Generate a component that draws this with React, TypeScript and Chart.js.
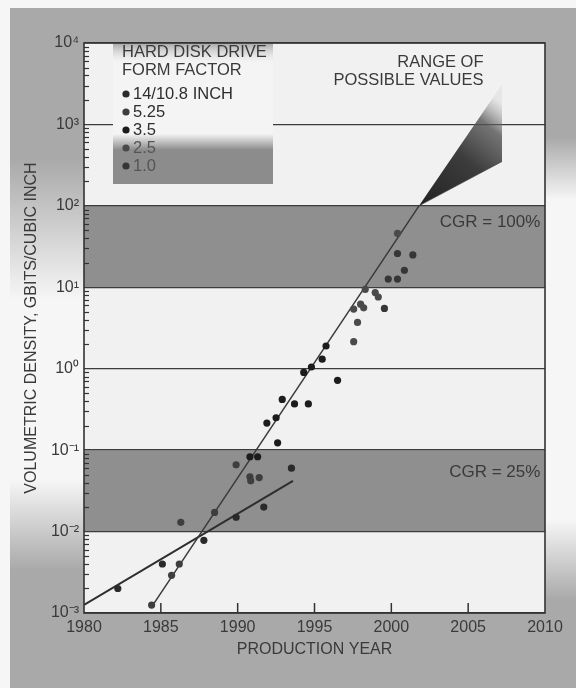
import React, { useEffect, useRef } from 'react';
import { Chart, registerables } from 'chart.js';

Chart.register(...registerables);

const FONT = "'Liberation Sans', Arial, Helvetica, sans-serif";
const INK = '#333333';

// ---------- data ----------
const formFactors = ['14/10.8 INCH', '5.25', '3.5', '2.5', '1.0'];
const seriesColors = ['#2a2a2a', '#3e3e3e', '#1c1c1c', '#4a4a4a', '#363636'];

const years14 = [1982.2, 1985.1, 1987.8, 1989.9, 1991.7, 1993.5];
const density14 = [0.002, 0.004, 0.0078, 0.015, 0.02, 0.06];

const years525 = [1984.4, 1985.7, 1986.2, 1986.3, 1988.5, 1989.9, 1990.8, 1990.85, 1991.4];
const density525 = [0.00125, 0.0029, 0.004, 0.013, 0.0172, 0.066, 0.047, 0.042, 0.046];

const years35 = [1990.8, 1991.3, 1991.9, 1992.5, 1992.6, 1992.9, 1993.7, 1994.6, 1994.3, 1994.8, 1995.5, 1995.75, 1996.5];
const density35 = [0.083, 0.083, 0.215, 0.25, 0.123, 0.42, 0.37, 0.37, 0.9, 1.05, 1.31, 1.9, 0.72];

const years25 = [1997.55, 1997.8, 1997.55, 1998.0, 1998.2, 1998.95, 1999.15, 1998.3, 2000.4];
const density25 = [2.15, 3.7, 5.4, 6.2, 5.6, 8.6, 7.6, 9.4, 46];

const years10 = [1999.55, 1999.8, 2000.4, 2000.85, 2000.4, 2001.4];
const density10 = [5.5, 12.6, 12.6, 16.2, 26, 25];

const seriesYears = [years14, years525, years35, years25, years10];
const seriesDensity = [density14, density525, density35, density25, density10];

const cgr100Years = [1984.5, 2001.8];
const cgr100Values = [0.00127, 100];
const cgr25Years = [1980, 1993.6];
const cgr25Values = [0.00126, 0.042];

const rangeYears = [2001.8, 2007.2];
const rangeUpper = [100, 3100];
const rangeLower = [100, 350];

const xTickValues = [1980, 1985, 1990, 1995, 2000, 2005, 2010];
const yTickValues = [0.001, 0.01, 0.1, 1, 10, 100, 1000, 10000];
const yTickLabels = ['10⁻³', '10⁻²', '10⁻¹', '10⁰', '10¹', '10²', '10³', '10⁴'];
const shadedBands = [[10, 100], [0.01, 0.1]];

const legendTitle = ['HARD DISK DRIVE', 'FORM FACTOR'];
const cgrLabels = ['CGR = 100%', 'CGR = 25%'];
const cgrLabelYears = [2009.7, 2009.7];
const cgrLabelValues = [63, 0.054];
const rangeLabel = ['RANGE OF', 'POSSIBLE VALUES'];
const rangeLabelYear = 2006.0;
const rangeLabelValues = [5700, 3440];

const xTitle = 'PRODUCTION YEAR';
const yTitle = 'VOLUMETRIC DENSITY, GBITS/CUBIC INCH';

// ---------- helpers ----------
const pts = (xs: number[], ys: number[]) => xs.map((x, i) => ({ x, y: ys[i] }));
const isDecade = (v: number) => {
  const e = Math.log10(v);
  return Math.abs(e - Math.round(e)) < 1e-6;
};
const decadeLabel = (v: number) => {
  const i = yTickValues.findIndex((t) => Math.abs(Math.log10(t) - Math.log10(v)) < 1e-6);
  return i >= 0 ? yTickLabels[i] : '';
};

const GRAY = '#a9a9a9';
const PAGE = '#f6f6f6';

const decorPlugin = {
  id: 'decor',
  beforeDraw(chart: any) {
    const { ctx, chartArea: ca, width, height, scales } = chart;
    const ys = scales.y;
    ctx.save();
    ctx.fillStyle = PAGE;
    ctx.fillRect(0, 0, width, height);
    // top strip
    ctx.fillStyle = GRAY;
    ctx.fillRect(10, 8, width - 10, ca.top - 8);
    // left upper column
    let g = ctx.createLinearGradient(0, ca.top, 0, 300);
    g.addColorStop(0, GRAY);
    g.addColorStop(0.45, GRAY);
    g.addColorStop(1, PAGE);
    ctx.fillStyle = g;
    ctx.fillRect(10, ca.top - 1, ca.left - 10, 300 - ca.top);
    // right upper column
    g = ctx.createLinearGradient(0, ca.top, 0, 200);
    g.addColorStop(0, GRAY);
    g.addColorStop(0.6, GRAY);
    g.addColorStop(1, PAGE);
    ctx.fillStyle = g;
    ctx.fillRect(ca.right, ca.top - 1, width - ca.right, 200 - ca.top);
    // left lower column
    g = ctx.createLinearGradient(0, 480, 0, 570);
    g.addColorStop(0, PAGE);
    g.addColorStop(1, GRAY);
    ctx.fillStyle = g;
    ctx.fillRect(10, 480, ca.left - 10, ca.bottom - 480 + 2);
    // right lower column
    g = ctx.createLinearGradient(0, 520, 0, 600);
    g.addColorStop(0, PAGE);
    g.addColorStop(1, GRAY);
    ctx.fillStyle = g;
    ctx.fillRect(ca.right, 520, width - ca.right, ca.bottom - 520 + 2);
    // bottom
    ctx.fillStyle = GRAY;
    ctx.fillRect(10, ca.bottom, width - 10, height - ca.bottom);

    // plot area
    ctx.fillStyle = '#f1f1f1';
    ctx.fillRect(ca.left, ca.top, ca.right - ca.left, ca.bottom - ca.top);
    // shaded decade bands
    ctx.fillStyle = '#8f8f8f';
    shadedBands.forEach(([lo, hi]) => {
      const y1 = ys.getPixelForValue(hi);
      const y2 = ys.getPixelForValue(lo);
      ctx.fillRect(ca.left, y1, ca.right - ca.left, y2 - y1);
    });
    ctx.restore();
  },
  beforeDatasetsDraw(chart: any) {
    const { ctx, chartArea: ca, scales } = chart;
    const xs = scales.x;
    const ys = scales.y;
    ctx.save();
    // inward minor ticks on y axis
    ctx.strokeStyle = INK;
    ctx.lineWidth = 1.2;
    for (let e = -3; e < 4; e++) {
      for (let m = 2; m <= 9; m++) {
        const y = Math.round(ys.getPixelForValue(m * Math.pow(10, e))) + 0.5;
        ctx.beginPath();
        ctx.moveTo(ca.left, y);
        ctx.lineTo(ca.left + 5, y);
        ctx.stroke();
      }
    }
    // inward x ticks
    ctx.lineWidth = 1.5;
    xTickValues.slice(1, -1).forEach((v) => {
      const x = xs.getPixelForValue(v);
      ctx.beginPath();
      ctx.moveTo(x, ca.bottom);
      ctx.lineTo(x, ca.bottom - 10);
      ctx.stroke();
    });

    // legend box
    const lx = ca.left + 29;
    const lr = ca.left + 189;
    const lt = ca.top;
    const lb = ca.top + 141;
    ctx.fillStyle = '#f4f4f4';
    ctx.fillRect(lx, lt, lr - lx, lb - lt);
    let g = ctx.createLinearGradient(0, lt, 0, lt + 22);
    g.addColorStop(0, '#a5a5a5');
    g.addColorStop(1, 'rgba(244,244,244,0)');
    ctx.fillStyle = g;
    ctx.fillRect(lx, lt, lr - lx, 22);
    g = ctx.createLinearGradient(0, lb - 50, 0, lb - 34);
    g.addColorStop(0, 'rgba(140,140,140,0)');
    g.addColorStop(1, '#8c8c8c');
    ctx.fillStyle = g;
    ctx.fillRect(lx, lb - 50, lr - lx, 50);

    ctx.fillStyle = '#3a3a3a';
    ctx.font = `16.5px ${FONT}`;
    ctx.textBaseline = 'middle';
    ctx.textAlign = 'left';
    legendTitle.forEach((t, i) => ctx.fillText(t, lx + 9, lt + 9 + i * 18));
    formFactors.forEach((t, i) => {
      const y = lt + 51 + i * 18;
      ctx.fillStyle = seriesColors[i];
      ctx.beginPath();
      ctx.arc(lx + 13, y, 3.6, 0, Math.PI * 2);
      ctx.fill();
      ctx.fillStyle = i >= 3 ? '#555555' : '#2e2e2e';
      ctx.fillText(t, lx + 20, y);
    });
    ctx.restore();
  },
  afterDatasetsDraw(chart: any) {
    const { ctx, chartArea: ca, scales } = chart;
    const xs = scales.x;
    const ys = scales.y;
    ctx.save();
    ctx.strokeStyle = INK;
    ctx.lineWidth = 1.6;
    ctx.strokeRect(ca.left, ca.top, ca.right - ca.left, ca.bottom - ca.top);

    ctx.fillStyle = '#3a3a3a';
    ctx.font = `17px ${FONT}`;
    ctx.textBaseline = 'middle';
    ctx.textAlign = 'right';
    cgrLabels.forEach((t, i) => {
      ctx.fillText(t, xs.getPixelForValue(cgrLabelYears[i]), ys.getPixelForValue(cgrLabelValues[i]));
    });
    ctx.font = `16.5px ${FONT}`;
    rangeLabel.forEach((t, i) => {
      ctx.fillText(t, xs.getPixelForValue(rangeLabelYear), ys.getPixelForValue(rangeLabelValues[i]));
    });
    ctx.restore();
  },
};

export default function App() {
  const ref = useRef<HTMLCanvasElement | null>(null);

  useEffect(() => {
    if (!ref.current) return;
    const pointSets = formFactors.map((label, i) => ({
      label,
      data: pts(seriesYears[i], seriesDensity[i]),
      backgroundColor: seriesColors[i],
      borderWidth: 0,
      pointRadius: 3.6,
      showLine: false,
    }));
    const fanFill = (c: any) => {
      const chart = c.chart;
      const { chartArea, scales } = chart;
      if (!chartArea) return '#555';
      const x0 = scales.x.getPixelForValue(rangeYears[0]);
      const y0 = scales.y.getPixelForValue(rangeUpper[0]);
      const x1 = scales.x.getPixelForValue(rangeYears[1]);
      const y1 = (scales.y.getPixelForValue(rangeUpper[1]) + scales.y.getPixelForValue(rangeLower[1])) / 2;
      const g = chart.ctx.createLinearGradient(x0, y0, x1, y1 - 20);
      g.addColorStop(0, '#222222');
      g.addColorStop(0.5, '#3d3d3d');
      g.addColorStop(0.8, 'rgba(85,85,85,0.8)');
      g.addColorStop(1, 'rgba(150,150,150,0.12)');
      return g;
    };
    const chart = new Chart(ref.current, {
      type: 'scatter',
      data: {
        datasets: [
          ...pointSets,
          {
            label: 'cgr100',
            data: pts(cgr100Years, cgr100Values),
            showLine: true,
            borderColor: '#3a3a3a',
            borderWidth: 1.5,
            pointRadius: 0,
          },
          {
            label: 'cgr25',
            data: pts(cgr25Years, cgr25Values),
            showLine: true,
            borderColor: '#2e2e2e',
            borderWidth: 2,
            pointRadius: 0,
          },
          {
            label: 'rangeUpper',
            data: pts(rangeYears, rangeUpper),
            showLine: true,
            borderWidth: 0,
            borderColor: 'rgba(0,0,0,0)',
            pointRadius: 0,
          },
          {
            label: 'rangeLower',
            data: pts(rangeYears, rangeLower),
            showLine: true,
            borderWidth: 1,
            borderColor: 'rgba(50,50,50,0.6)',
            pointRadius: 0,
            fill: '-1',
            backgroundColor: fanFill,
          },
        ] as any,
      },
      options: {
        animation: false,
        responsive: true,
        maintainAspectRatio: false,
        events: [],
        layout: { padding: { left: 18.4, top: 43, right: 31, bottom: 24.4 } },
        plugins: {
          legend: { display: false },
          tooltip: { enabled: false },
        },
        scales: {
          x: {
            type: 'linear',
            min: 1980,
            max: 2010,
            afterBuildTicks: (s: any) => {
              s.ticks = xTickValues.map((value) => ({ value }));
            },
            afterFit: (s: any) => {
              s.height = 50.6;
            },
            ticks: {
              callback: (v: any) => String(v),
              font: { family: FONT, size: 16 },
              color: '#3a3a3a',
              padding: 5,
              maxRotation: 0,
              autoSkip: false,
            },
            grid: { drawOnChartArea: false, drawTicks: false },
            border: { display: false },
            title: {
              display: true,
              text: xTitle,
              font: { family: FONT, size: 16 },
              color: '#3a3a3a',
            },
          },
          y: {
            type: 'logarithmic',
            min: 0.001,
            max: 10000,
            afterBuildTicks: (s: any) => {
              s.ticks = yTickValues.map((value) => ({ value, major: true }));
            },
            afterFit: (s: any) => {
              s.width = 65.6;
            },
            ticks: {
              callback: (v: any) => (isDecade(Number(v)) ? decadeLabel(Number(v)) : ''),
              font: { family: FONT, size: 16 },
              color: '#3a3a3a',
              padding: 5,
              autoSkip: false,
            },
            grid: {
              drawTicks: false,
              color: '#3c3c3c',
              lineWidth: 1.3,
            },
            border: { display: false },
            title: {
              display: true,
              text: yTitle,
              font: { family: FONT, size: 16 },
              color: '#3a3a3a',
            },
          },
        },
      } as any,
      plugins: [decorPlugin],
    });
    return () => chart.destroy();
  }, []);

  return (
    <div style={{ position: 'fixed', left: 0, top: 0, width: 576, height: 688 }}>
      <canvas ref={ref} />
    </div>
  );
}
